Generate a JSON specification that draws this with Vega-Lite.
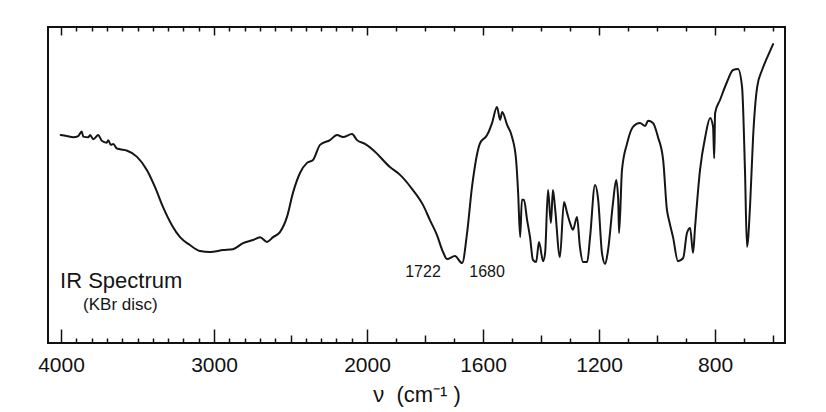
{
  "$schema": "https://vega.github.io/schema/vega-lite/v6.json",
  "autosize": {"type": "none"},
  "padding": {"left": 48, "top": 27, "right": 41, "bottom": 69},
  "width": 737,
  "height": 316,
  "background": "white",
  "config": {
    "font": "Liberation Sans",
    "view": {"stroke": "#111111", "strokeWidth": 2},
    "axis": {"grid": false, "domain": false, "tickColor": "#111111", "labelColor": "#111111", "titleColor": "#111111"}
  },
  "datasets": {
    "spectrum": [
      {"wn": 4002, "T": 65.8}, {"wn": 3963, "T": 65.5}, {"wn": 3920, "T": 65.1}, {"wn": 3887, "T": 65.5},
      {"wn": 3865, "T": 66.9}, {"wn": 3854, "T": 65.3}, {"wn": 3822, "T": 65.1}, {"wn": 3810, "T": 65.8},
      {"wn": 3789, "T": 64.5}, {"wn": 3756, "T": 65.8}, {"wn": 3734, "T": 64.0}, {"wn": 3701, "T": 63.4},
      {"wn": 3691, "T": 64.2}, {"wn": 3675, "T": 62.7}, {"wn": 3658, "T": 63.0}, {"wn": 3636, "T": 61.6},
      {"wn": 3614, "T": 61.3}, {"wn": 3571, "T": 60.9}, {"wn": 3503, "T": 58.9}, {"wn": 3438, "T": 54.7},
      {"wn": 3386, "T": 49.4}, {"wn": 3333, "T": 43.0}, {"wn": 3275, "T": 37.3}, {"wn": 3222, "T": 33.5},
      {"wn": 3157, "T": 31.0}, {"wn": 3092, "T": 29.1}, {"wn": 3026, "T": 28.8}, {"wn": 2941, "T": 29.4},
      {"wn": 2876, "T": 29.7}, {"wn": 2810, "T": 31.6}, {"wn": 2745, "T": 32.6}, {"wn": 2699, "T": 33.5},
      {"wn": 2654, "T": 32.0}, {"wn": 2614, "T": 33.5}, {"wn": 2569, "T": 35.1}, {"wn": 2523, "T": 39.9},
      {"wn": 2484, "T": 47.5}, {"wn": 2438, "T": 53.8}, {"wn": 2392, "T": 57.0}, {"wn": 2353, "T": 57.9},
      {"wn": 2307, "T": 62.7}, {"wn": 2242, "T": 64.2}, {"wn": 2196, "T": 65.8}, {"wn": 2157, "T": 65.2},
      {"wn": 2098, "T": 66.1}, {"wn": 2065, "T": 64.2}, {"wn": 2013, "T": 63.0}, {"wn": 1979, "T": 61.1},
      {"wn": 1921, "T": 55.7}, {"wn": 1886, "T": 53.2}, {"wn": 1845, "T": 48.8}, {"wn": 1807, "T": 43.7},
      {"wn": 1783, "T": 38.9}, {"wn": 1759, "T": 34.2}, {"wn": 1738, "T": 28.8}, {"wn": 1724, "T": 26.6},
      {"wn": 1697, "T": 27.5}, {"wn": 1672, "T": 25.3}, {"wn": 1655, "T": 34.8}, {"wn": 1638, "T": 49.4},
      {"wn": 1610, "T": 63.3}, {"wn": 1586, "T": 65.8}, {"wn": 1569, "T": 69.6}, {"wn": 1552, "T": 74.7},
      {"wn": 1541, "T": 70.6}, {"wn": 1534, "T": 73.1}, {"wn": 1517, "T": 69.0}, {"wn": 1500, "T": 65.2},
      {"wn": 1486, "T": 57.9}, {"wn": 1479, "T": 47.5}, {"wn": 1472, "T": 33.5}, {"wn": 1466, "T": 45.3},
      {"wn": 1459, "T": 45.3}, {"wn": 1448, "T": 38.9}, {"wn": 1438, "T": 33.5}, {"wn": 1428, "T": 26.3},
      {"wn": 1417, "T": 25.6}, {"wn": 1407, "T": 32.0}, {"wn": 1393, "T": 25.9}, {"wn": 1386, "T": 28.5},
      {"wn": 1376, "T": 48.4}, {"wn": 1366, "T": 38.0}, {"wn": 1359, "T": 48.4}, {"wn": 1352, "T": 43.0},
      {"wn": 1335, "T": 27.2}, {"wn": 1321, "T": 44.6}, {"wn": 1310, "T": 41.1}, {"wn": 1300, "T": 38.0},
      {"wn": 1290, "T": 35.8}, {"wn": 1276, "T": 39.9}, {"wn": 1266, "T": 30.4}, {"wn": 1255, "T": 25.6},
      {"wn": 1241, "T": 25.6}, {"wn": 1231, "T": 33.5}, {"wn": 1214, "T": 50.0}, {"wn": 1203, "T": 45.3},
      {"wn": 1190, "T": 28.5}, {"wn": 1179, "T": 25.0}, {"wn": 1169, "T": 29.4}, {"wn": 1152, "T": 44.3},
      {"wn": 1141, "T": 51.6}, {"wn": 1134, "T": 45.3}, {"wn": 1131, "T": 34.8}, {"wn": 1121, "T": 54.7},
      {"wn": 1103, "T": 63.3}, {"wn": 1083, "T": 68.4}, {"wn": 1059, "T": 69.6}, {"wn": 1041, "T": 68.7},
      {"wn": 1031, "T": 70.3}, {"wn": 1014, "T": 69.6}, {"wn": 997, "T": 65.2}, {"wn": 979, "T": 57.9},
      {"wn": 966, "T": 42.1}, {"wn": 959, "T": 38.9}, {"wn": 945, "T": 33.5}, {"wn": 928, "T": 25.9},
      {"wn": 910, "T": 26.9}, {"wn": 897, "T": 34.8}, {"wn": 886, "T": 36.4}, {"wn": 876, "T": 28.5},
      {"wn": 869, "T": 36.7}, {"wn": 852, "T": 54.7}, {"wn": 834, "T": 65.2}, {"wn": 817, "T": 71.2},
      {"wn": 807, "T": 68.4}, {"wn": 803, "T": 58.5}, {"wn": 800, "T": 72.8}, {"wn": 783, "T": 76.9},
      {"wn": 759, "T": 82.6}, {"wn": 738, "T": 86.4}, {"wn": 721, "T": 86.7}, {"wn": 707, "T": 81.0},
      {"wn": 697, "T": 54.7}, {"wn": 690, "T": 30.4}, {"wn": 679, "T": 44.3}, {"wn": 669, "T": 65.2},
      {"wn": 655, "T": 81.0}, {"wn": 638, "T": 86.4}, {"wn": 621, "T": 90.2}, {"wn": 600, "T": 94.6}
    ],
    "title": [{"wn": 4006, "T": 17.4, "label": "IR Spectrum"}],
    "subtitle": [{"wn": 3856, "T": 10.4, "label": "(KBr disc)"}],
    "peaks": [
      {"wn": 1807, "T": 20.9, "label": "1722"},
      {"wn": 1586, "T": 20.9, "label": "1680"}
    ]
  },
  "resolve": {"axis": {"x": "independent"}},
  "layer": [
    {
      "data": {"name": "spectrum"},
      "mark": {"type": "line", "color": "#151515", "strokeWidth": 2, "strokeJoin": "round", "strokeCap": "round", "interpolate": "monotone"},
      "encoding": {
        "x": {
          "field": "wn", "type": "quantitative",
          "scale": {"type": "linear", "domain": [4085, 2000, 559], "range": [0, 319, 737], "nice": false, "zero": false},
          "axis": {
            "orient": "bottom", "offset": 0,
            "values": [4000, 3900, 3800, 3700, 3600, 3500, 3400, 3300, 3200, 3100, 3000, 2900, 2800, 2700, 2600, 2500, 2400, 2300, 2200, 2100, 2000, 1900, 1800, 1700, 1600, 1500, 1400, 1300, 1200, 1100, 1000, 900, 800, 700, 600],
            "tickSize": {"condition": [
              {"test": "indexof([4000,3000,2000,1600,1200,800], datum.value) >= 0", "value": -14},
              {"test": "indexof([1400,1000,600,1800,2500], datum.value) >= 0", "value": -8}
            ], "value": -5},
            "tickWidth": 1.5,
            "labelExpr": "indexof([4000,3000,2000,1600,1200,800], datum.value) >= 0 ? datum.value : ''",
            "labelFontSize": 21,
            "labelPadding": 25,
            "labelOverlap": false,
            "labelFlush": false,
            "title": "ν\u00a0\u00a0(cm⁻¹ )",
            "titleFontSize": 22,
            "titleFontWeight": "normal",
            "titlePadding": 0
          }
        },
        "y": {"field": "T", "type": "quantitative", "scale": {"domain": [0, 100], "nice": false, "zero": false}, "axis": null}
      }
    },
    {
      "data": {"name": "spectrum"},
      "mark": {"type": "line", "strokeOpacity": 0},
      "encoding": {
        "x": {
          "field": "wn", "type": "quantitative",
          "axis": {
            "orient": "top", "offset": 0,
            "values": [4000, 3900, 3800, 3700, 3600, 3500, 3400, 3300, 3200, 3100, 3000, 2900, 2800, 2700, 2600, 2500, 2400, 2300, 2200, 2100, 2000, 1900, 1800, 1700, 1600, 1500, 1400, 1300, 1200, 1100, 1000, 900, 800, 700, 600],
            "tickSize": {"condition": {"test": "indexof([4000,3000,2000,1600,1200,800], datum.value) >= 0", "value": -8}, "value": -4},
            "tickWidth": 1.5,
            "labels": false,
            "title": null
          }
        },
        "y": {"field": "T", "type": "quantitative", "axis": null}
      }
    },
    {
      "data": {"name": "title"},
      "mark": {"type": "text", "align": "left", "baseline": "alphabetic", "fontSize": 22, "color": "#151515"},
      "encoding": {
        "x": {"field": "wn", "type": "quantitative", "axis": null},
        "y": {"field": "T", "type": "quantitative", "axis": null},
        "text": {"field": "label"}
      }
    },
    {
      "data": {"name": "subtitle"},
      "mark": {"type": "text", "align": "left", "baseline": "alphabetic", "fontSize": 17, "color": "#151515"},
      "encoding": {
        "x": {"field": "wn", "type": "quantitative", "axis": null},
        "y": {"field": "T", "type": "quantitative", "axis": null},
        "text": {"field": "label"}
      }
    },
    {
      "data": {"name": "peaks"},
      "mark": {"type": "text", "align": "center", "baseline": "alphabetic", "fontSize": 16, "color": "#151515"},
      "encoding": {
        "x": {"field": "wn", "type": "quantitative", "axis": null},
        "y": {"field": "T", "type": "quantitative", "axis": null},
        "text": {"field": "label"}
      }
    }
  ]
}
